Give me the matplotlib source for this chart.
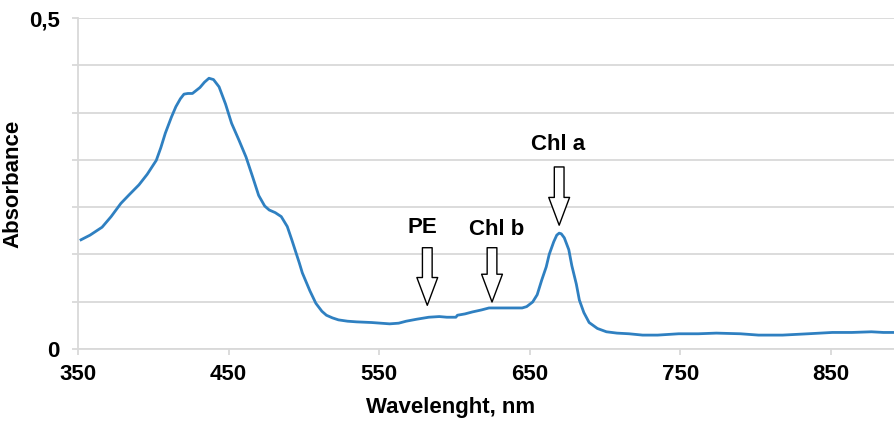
import numpy as np
from matplotlib import pyplot as plt

# absorbance spectrum
wavelength = [352, 358, 366, 372, 378.5, 384, 390.5, 396, 402, 405, 408, 412,
              415, 418, 420.4, 423, 426, 431, 434, 437, 440, 443.7, 448, 452,
              457, 461.6, 466, 470, 474, 477, 481, 485, 489, 492, 497, 499, 504,
              508, 512, 515, 519, 523, 529, 535, 545, 557, 563, 568, 575, 583,
              590, 595, 601, 602, 607, 612, 618, 623, 629, 634, 640, 645, 648,
              652, 655, 658, 661, 663, 666, 668, 669.6, 671, 673, 676, 678, 681,
              683, 686, 689.5, 695, 701, 708, 716, 725, 735, 749, 762, 774, 790,
              802, 818, 835, 851, 864, 877, 885, 892]
absorbance = [0.165, 0.172, 0.184, 0.200, 0.220, 0.233, 0.248, 0.264, 0.285,
              0.304, 0.326, 0.350, 0.366, 0.378, 0.385, 0.386, 0.386, 0.395,
              0.403, 0.409, 0.407, 0.396, 0.370, 0.341, 0.315, 0.290, 0.260,
              0.232, 0.216, 0.210, 0.206, 0.200, 0.185, 0.165, 0.130, 0.115,
              0.088, 0.069, 0.057, 0.051, 0.047, 0.044, 0.042, 0.041, 0.040,
              0.038, 0.039, 0.042, 0.045, 0.048, 0.049, 0.048, 0.048, 0.051,
              0.053, 0.056, 0.059, 0.062, 0.062, 0.062, 0.062, 0.062, 0.064,
              0.071, 0.082, 0.104, 0.124, 0.143, 0.162, 0.172, 0.175, 0.174,
              0.168, 0.150, 0.126, 0.098, 0.074, 0.055, 0.040, 0.031, 0.026,
              0.024, 0.023, 0.021, 0.021, 0.023, 0.023, 0.024, 0.023, 0.021,
              0.021, 0.023, 0.025, 0.025, 0.026, 0.025, 0.025]

# peak annotations: label, arrow tip (x, y), arrow tail y, label position
peak_names = ['PE', 'Chl b', 'Chl a']
peak_x = [582, 625, 669.6]
peak_tip_y = [0.066, 0.071, 0.187]
peak_tail_y = [0.153, 0.153, 0.275]
peak_label_x = [579, 628, 669]
peak_label_y = [0.183, 0.180, 0.309]

xticks = [350, 450, 550, 650, 750, 850]
yticks = np.linspace(0, 0.5, 8)
ytick_labels = ['0', '', '', '', '', '', '', '0,5']

plt.rcParams['font.family'] = ['Liberation Sans', 'DejaVu Sans']
grid_c = '#d9d9d9'
fs = 16

fig = plt.figure(figsize=(8.94, 4.21), dpi=100)
ax = fig.add_axes([78 / 894, 72 / 421, 1 - 78 / 894, 331 / 421])

ax.plot(wavelength, absorbance, color='#2f80c1', lw=2.0, zorder=3)

for name, x, ty, tl, lx, ly in zip(peak_names, peak_x, peak_tip_y,
                                   peak_tail_y, peak_label_x, peak_label_y):
    ax.annotate('', xy=(x, ty), xytext=(x, tl),
                arrowprops=dict(facecolor='white', edgecolor='black', lw=1.0,
                                width=7, headwidth=15, headlength=20, shrink=0),
                zorder=4)
    ax.text(lx, ly, name, ha='center', va='center', fontsize=fs,
            fontweight='bold', color='black')

ax.set_xlim(350, 892)
ax.set_ylim(0, 0.5)
ax.set_xticks(xticks)
ax.set_yticks(yticks)
ax.set_yticklabels(ytick_labels)
ax.grid(axis='y', color=grid_c, lw=1.3, zorder=0)
ax.set_axisbelow(True)
for side in ['top', 'right']:
    ax.spines[side].set_visible(False)
for side in ['left', 'bottom']:
    ax.spines[side].set_color(grid_c)
    ax.spines[side].set_linewidth(1.3)
ax.tick_params(axis='both', colors=grid_c, length=4, width=1.3,
               labelcolor='black', labelsize=fs)
ax.tick_params(axis='x', pad=7)
ax.tick_params(axis='y', pad=9)
for lab in ax.get_xticklabels() + ax.get_yticklabels():
    lab.set_fontweight('bold')

ax.set_ylabel('Absorbance', fontsize=fs, fontweight='bold', labelpad=4)
fig.text(451 / 894, 1 - 413 / 421, 'Wavelenght, nm', ha='center',
         va='baseline', fontsize=fs, fontweight='bold')

fig.savefig('out.png', dpi=100)
